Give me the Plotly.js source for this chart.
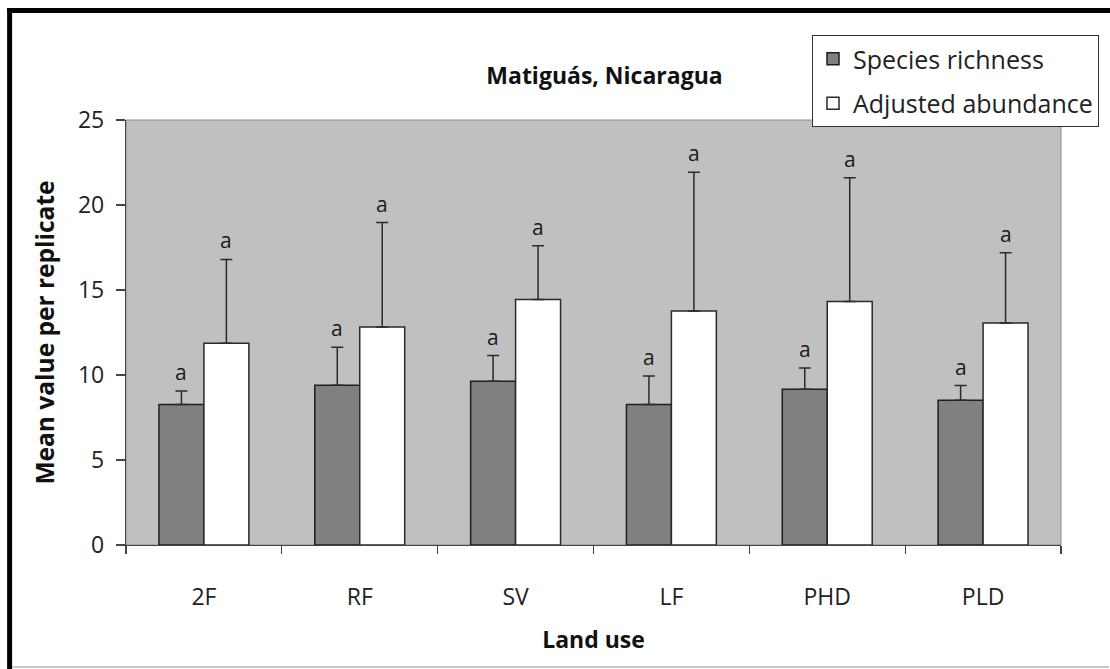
<!DOCTYPE html>
<html>
<head>
<meta charset="utf-8">
<script src="https://cdn.plot.ly/plotly-3.0.1.min.js"></script>
<style>
  html, body { margin: 0; padding: 0; background: #ffffff; }
  #chart { width: 1110px; height: 669px; }
</style>
</head>
<body>
<div id="chart"></div>
<script>
// ---- data ----
const landUse = ["2F", "RF", "SV", "LF", "PHD", "PLD"];
const speciesRichness = [8.27, 9.39, 9.63, 8.27, 9.16, 8.51];
const speciesRichnessErr = [0.79, 2.24, 1.51, 1.67, 1.25, 0.87];
const adjustedAbundance = [11.87, 12.83, 14.44, 13.77, 14.32, 13.06];
const adjustedAbundanceErr = [4.93, 6.14, 3.16, 8.15, 7.28, 4.13];
const richnessLetters = ["a", "a", "a", "a", "a", "a"];
const abundanceLetters = ["a", "a", "a", "a", "a", "a"];

const W = 1110, H = 669;
const M = { l: 126, r: 48, t: 120, b: 124 };
const pw = W - M.l - M.r, ph = H - M.t - M.b;
const px = x => (x - M.l) / pw;           // pixel -> paper x
const py = y => (H - M.b - y) / ph;       // pixel -> paper y

const FONT = "'Open Sans', Lato, sans-serif";
const zeros = landUse.map(() => 0);
const BARGAP = 0.423;

const traces = [
  {
    type: "bar", name: "Species richness", x: landUse, y: speciesRichness,
    marker: { color: "#808080", line: { color: "#1e1e1e", width: 1.5 } },
    error_y: { type: "data", symmetric: false, array: speciesRichnessErr, arrayminus: zeros,
               color: "#2a2a2a", thickness: 1.5, width: 6 },
    legendgroup: "g1", hoverinfo: "x+y"
  },
  {
    type: "bar", name: "Adjusted abundance", x: landUse, y: adjustedAbundance,
    marker: { color: "#ffffff", line: { color: "#2a2a2a", width: 1.5 } },
    error_y: { type: "data", symmetric: false, array: adjustedAbundanceErr, arrayminus: zeros,
               color: "#2a2a2a", thickness: 1.5, width: 6 },
    legendgroup: "g2", hoverinfo: "x+y"
  }
];

// letter annotations above each error bar
const annotations = [];
const barHalf = 0.5 * (1 - BARGAP) / 2;  // centre offset of each bar in category units
landUse.forEach((c, i) => {
  annotations.push({
    x: i - barHalf, y: speciesRichness[i] + speciesRichnessErr[i], xref: "x", yref: "y",
    text: richnessLetters[i], showarrow: false, yanchor: "bottom", yshift: 3,
    font: { family: FONT, size: 21, color: "#1a1a1a" }
  });
  annotations.push({
    x: i + barHalf, y: adjustedAbundance[i] + adjustedAbundanceErr[i], xref: "x", yref: "y",
    text: abundanceLetters[i], showarrow: false, yanchor: "bottom", yshift: 3,
    font: { family: FONT, size: 21, color: "#1a1a1a" }
  });
});

const shapes = [
  { type: "rect", xref: "paper", yref: "paper", x0: 0, x1: 1, y0: 0, y1: 1,
    line: { color: "#8a8a8a", width: 1 }, layer: "below" },
  { type: "line", xref: "paper", yref: "paper", x0: px(7), x1: px(1112), y0: py(10.5), y1: py(10.5),
    line: { color: "#000000", width: 5 } },
  { type: "line", xref: "paper", yref: "paper", x0: px(9.5), x1: px(9.5), y0: py(8), y1: py(669),
    line: { color: "#000000", width: 5 } },
  { type: "line", xref: "paper", yref: "paper", x0: px(12), x1: px(1110), y0: py(667), y1: py(667),
    line: { color: "#c8c8c8", width: 2 } }
];

const layout = {
  width: W, height: H,
  margin: M,
  paper_bgcolor: "#ffffff",
  plot_bgcolor: "#c0c0c0",
  font: { family: FONT, color: "#222222", size: 20 },
  title: {
    text: "<b>Matiguás, Nicaragua</b>",
    font: { family: FONT, size: 23, color: "#111111" },
    x: px(605), xref: "paper", xanchor: "center",
    y: 1 - 76 / H, yref: "container", yanchor: "middle"
  },
  barmode: "group",
  bargap: BARGAP,
  bargroupgap: 0,
  showlegend: true,
  legend: {
    x: px(812), y: py(35), xanchor: "left", yanchor: "top",
    bgcolor: "#ffffff", bordercolor: "#333333", borderwidth: 1,
    font: { family: FONT, size: 25, color: "#222222" },
    traceorder: "grouped", tracegroupgap: 9,
    itemclick: false, itemdoubleclick: false
  },
  xaxis: {
    type: "category",
    showgrid: false, zeroline: false,
    showline: true, linecolor: "#444444", linewidth: 1.2,
    ticks: "outside", tickson: "boundaries", ticklen: 8, tickcolor: "#444444", tickwidth: 1.2,
    tickfont: { family: FONT, size: 23, color: "#222222" },
    ticklabelstandoff: 31,
    title: { text: "<b>Land use</b>", font: { family: FONT, size: 23, color: "#111111" }, standoff: 21 },
    fixedrange: true
  },
  yaxis: {
    range: [0, 25], dtick: 5, tick0: 0,
    showgrid: false, zeroline: false,
    showline: true, linecolor: "#444444", linewidth: 1.2,
    ticks: "outside", ticklen: 9, tickcolor: "#444444", tickwidth: 1.2,
    tickfont: { family: FONT, size: 23, color: "#222222" },
    ticklabelstandoff: 7,
    title: { text: "<b>Mean value per replicate</b>", font: { family: FONT, size: 24.5, color: "#111111" }, standoff: 16 },
    fixedrange: true
  },
  annotations: annotations,
  shapes: shapes
};

Plotly.newPlot("chart", traces, layout, { displayModeBar: false, staticPlot: true });
</script>
</body>
</html>
